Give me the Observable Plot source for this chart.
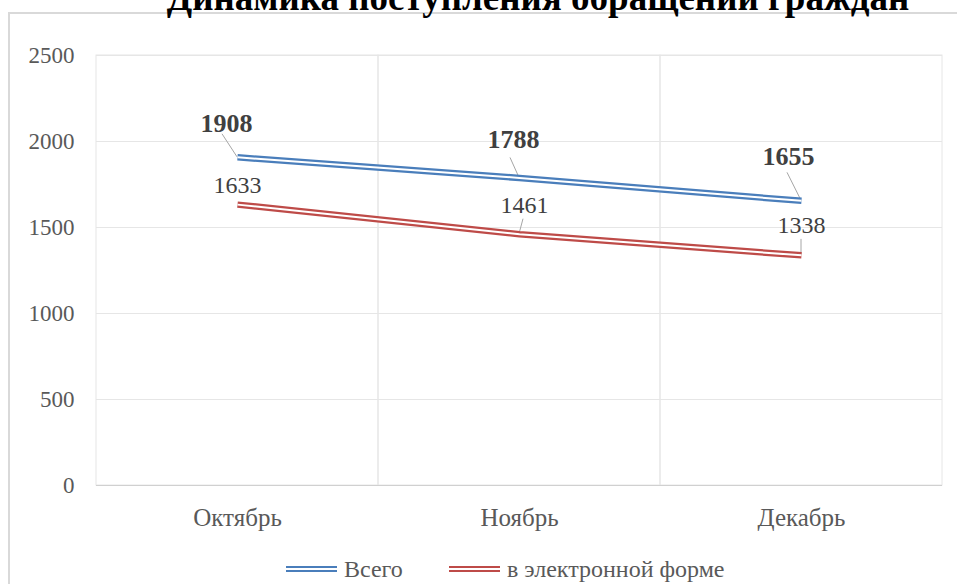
<!DOCTYPE html>
<html><head><meta charset="utf-8">
<script src="https://cdn.jsdelivr.net/npm/d3@7"></script>
<script src="https://cdn.jsdelivr.net/npm/@observablehq/plot@0.6"></script>
<style>
body{margin:0;width:957px;height:584px;overflow:hidden;background:#fff;position:relative;font-family:"Liberation Serif",serif;}
#frame{position:absolute;left:8px;top:12px;width:1000px;height:1000px;border:2px solid #d9d9d9;box-sizing:border-box;}
#title{position:absolute;left:0;width:1076px;text-align:center;top:-21px;font-weight:bold;font-size:37px;color:#000;white-space:nowrap;line-height:1;}
#chart{position:absolute;left:0;top:0;}
#legend{position:absolute;top:555px;left:0;width:957px;height:28px;font-size:24px;color:#595959;font-family:"Liberation Serif",serif;}
.item{position:absolute;top:0;display:flex;align-items:center;height:28px;white-space:nowrap;}
.swatch{display:inline-block;width:51px;height:2px;box-sizing:content-box;border-top:2px solid;border-bottom:2px solid;margin-right:7px;}
</style></head>
<body>
<div id="frame"></div>
<div id="chart"></div>
<div id="title">Динамика поступления обращений граждан</div>
<div id="legend"></div>
<script>
const months = ["Октябрь", "Ноябрь", "Декабрь"];
const seriesNames = ["Всего", "в электронной форме"];
const total = [1908, 1788, 1655];
const electronic = [1633, 1461, 1338];
const yTicks = [0, 500, 1000, 1500, 2000, 2500];
const colors = ["#4a7ebb", "#be4b48"];

// label placement (pixel offsets from the point) and leader-line ends
const labelOffsets = [
  [[-11, -34], [-6, -38], [-13, -44]],
  [[0, -19], [5, -29], [0, -30]]
];
const leaderEnds = [
  [[-15, -23], [-9, -20], [-14, -28]],
  [null, [4, -15], [0, -16]]
];

const seriesValues = [total, electronic];
const data = [];
seriesValues.forEach((vals, s) => months.forEach((m, i) => data.push({month: m, series: seriesNames[s], value: vals[i], s, i})));

function leaders(index, scales) {
  const sc = (scales && scales.x) ? scales : arguments[1];
  const g = d3.create("svg:g").attr("stroke", "#a6a6a6").attr("stroke-width", 1).attr("fill", "none");
  const half = sc.x.bandwidth ? sc.x.bandwidth() / 2 : 0;
  data.forEach(d => {
    const e = leaderEnds[d.s][d.i];
    if (!e) return;
    const x = sc.x(d.month) + half, y = sc.y(d.value);
    g.append("line").attr("x1", x).attr("y1", y).attr("x2", x + e[0]).attr("y2", y + e[1]);
  });
  return g.node();
}

const labelMarks = data.map(d => Plot.text([d], {
  x: "month", y: "value", text: d => String(d.value),
  dx: labelOffsets[d.s][d.i][0], dy: labelOffsets[d.s][d.i][1],
  fill: "#404040", fontSize: d.s === 0 ? 26 : 24, fontWeight: d.s === 0 ? "bold" : "normal"
}));

const chart = Plot.plot({
  width: 957, height: 545,
  marginTop: 55, marginBottom: 60, marginLeft: 96, marginRight: 15,
  style: {fontFamily: "Liberation Serif", fontSize: "23px", color: "#595959", background: "transparent"},
  x: {type: "band", domain: months, padding: 0, label: null, tickSize: 0, tickPadding: 23},
  y: {domain: [0, 2500], ticks: yTicks, tickFormat: d => String(d), label: null, tickSize: 0, tickPadding: 22},
  color: {domain: seriesNames, range: colors},
  marks: [
    Plot.ruleY(yTicks, {stroke: "#e6e6e6"}),
    Plot.cell(months, {x: d => d, fill: "none", stroke: "#e6e6e6"}),
    Plot.ruleY([0], {stroke: "#d0d0d0"}),
    leaders,
    Plot.line(data, {x: "month", y: "value", z: "series", stroke: "series", strokeWidth: 6.5, strokeLinecap: "butt"}),
    Plot.line(data, {x: "month", y: "value", z: "series", stroke: "white", strokeWidth: 2, strokeLinecap: "butt"}),
    ...labelMarks
  ]
});
chart.querySelectorAll('[aria-label="x-axis tick label"] text, [aria-label="x-axis"] text').forEach(t => t.setAttribute("font-size", "25"));
document.getElementById("chart").appendChild(chart);

const legend = document.getElementById("legend");
const legendLeft = [286, 449];
seriesNames.forEach((name, k) => {
  const it = document.createElement("div");
  it.className = "item";
  it.style.left = legendLeft[k] + "px";
  const sw = document.createElement("span");
  sw.className = "swatch";
  sw.style.borderColor = colors[k];
  it.appendChild(sw);
  it.appendChild(document.createTextNode(name));
  legend.appendChild(it);
});
</script>
</body></html>
